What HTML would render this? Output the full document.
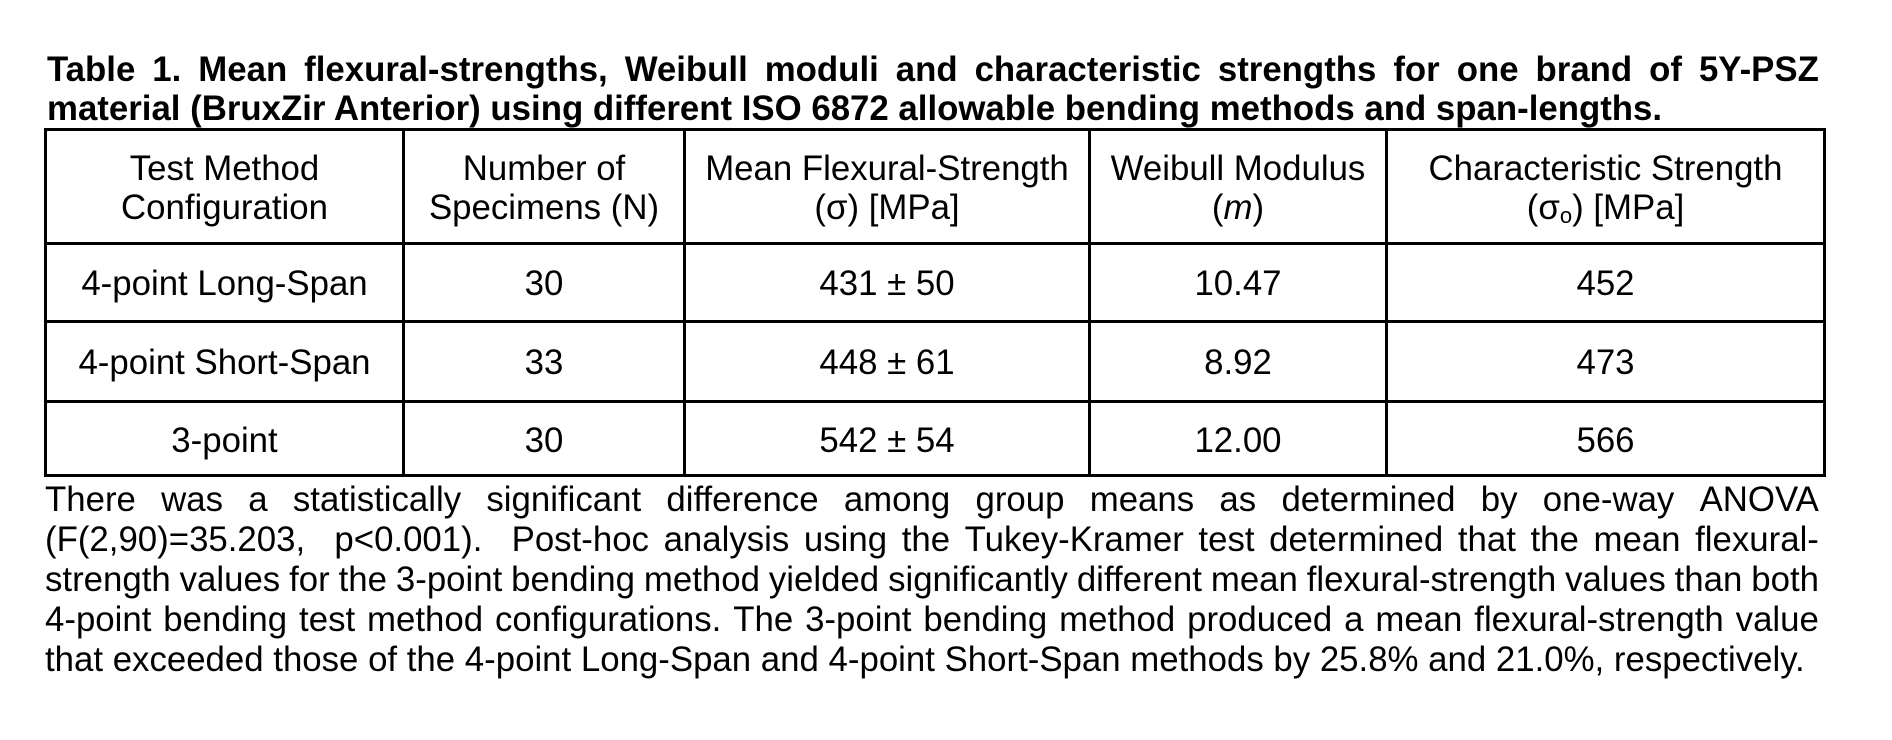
<!DOCTYPE html>
<html>
<head>
<meta charset="utf-8">
<style>
html,body{margin:0;padding:0;}
body{width:1892px;height:740px;background:#fff;position:relative;overflow:hidden;font-family:"Liberation Sans",Arial,sans-serif;font-size:34.8px;color:#000;}
.l{position:absolute;height:39px;line-height:39px;white-space:nowrap;}
.j{display:flex;justify-content:space-between;}
.c{text-align:center;}
.b{font-weight:bold;}
.hl{position:absolute;background:#000;height:3px;left:44px;width:1782px;}
.vl{position:absolute;background:#000;width:3px;top:128px;height:349px;}
sub{font-size:22px;line-height:0;vertical-align:-4px;}
.c1{left:47px;width:355px;}
.c2{left:405px;width:278px;}
.c3{left:686px;width:402px;}
.c4{left:1091px;width:294px;}
.c5{left:1388px;width:435px;}
.sp{width:0;}
</style>
</head>
<body>

<!-- Title -->
<div class="l j b" style="left:47px;width:1772px;top:49.5px;">
<span>Table</span><span>1.</span><span>Mean</span><span>flexural-strengths,</span><span>Weibull</span><span>moduli</span><span>and</span><span>characteristic</span><span>strengths</span><span>for</span><span>one</span><span>brand</span><span>of</span><span>5Y-PSZ</span>
</div>
<div class="l b" style="left:47px;top:89px;">material (BruxZir Anterior) using different ISO 6872 allowable bending methods and span-lengths.</div>

<!-- Table lines -->
<div class="hl" style="top:128px;"></div>
<div class="hl" style="top:242px;"></div>
<div class="hl" style="top:320px;"></div>
<div class="hl" style="top:400px;"></div>
<div class="hl" style="top:474px;"></div>
<div class="vl" style="left:44px;"></div>
<div class="vl" style="left:402px;"></div>
<div class="vl" style="left:683px;"></div>
<div class="vl" style="left:1088px;"></div>
<div class="vl" style="left:1385px;"></div>
<div class="vl" style="left:1823px;"></div>

<!-- Header -->
<div class="l c c1" style="top:148.5px;">Test Method</div>
<div class="l c c1" style="top:188px;">Configuration</div>
<div class="l c c2" style="top:148.5px;">Number of</div>
<div class="l c c2" style="top:188px;">Specimens (N)</div>
<div class="l c c3" style="top:148.5px;">Mean Flexural-Strength</div>
<div class="l c c3" style="top:188px;">(σ) [MPa]</div>
<div class="l c c4" style="top:148.5px;">Weibull Modulus</div>
<div class="l c c4" style="top:188px;">(<i>m</i>)</div>
<div class="l c c5" style="top:148.5px;">Characteristic Strength</div>
<div class="l c c5" style="top:188px;">(σ<sub>o</sub>) [MPa]</div>

<!-- Row 1 -->
<div class="l c c1" style="top:264px;">4-point Long-Span</div>
<div class="l c c2" style="top:264px;">30</div>
<div class="l c c3" style="top:264px;">431 ± 50</div>
<div class="l c c4" style="top:264px;">10.47</div>
<div class="l c c5" style="top:264px;">452</div>

<!-- Row 2 -->
<div class="l c c1" style="top:343px;">4-point Short-Span</div>
<div class="l c c2" style="top:343px;">33</div>
<div class="l c c3" style="top:343px;">448 ± 61</div>
<div class="l c c4" style="top:343px;">8.92</div>
<div class="l c c5" style="top:343px;">473</div>

<!-- Row 3 -->
<div class="l c c1" style="top:420.5px;">3-point</div>
<div class="l c c2" style="top:420.5px;">30</div>
<div class="l c c3" style="top:420.5px;">542 ± 54</div>
<div class="l c c4" style="top:420.5px;">12.00</div>
<div class="l c c5" style="top:420.5px;">566</div>

<!-- Paragraph -->
<div class="l j" style="left:45px;width:1774px;top:480px;">
<span>There</span><span>was</span><span>a</span><span>statistically</span><span>significant</span><span>difference</span><span>among</span><span>group</span><span>means</span><span>as</span><span>determined</span><span>by</span><span>one-way</span><span>ANOVA</span>
</div>
<div class="l j" style="left:45px;width:1774px;top:520px;">
<span>(F(2,90)=35.203,</span><span class="sp"></span><span>p&lt;0.001).</span><span class="sp"></span><span>Post-hoc</span><span>analysis</span><span>using</span><span>the</span><span>Tukey-Kramer</span><span>test</span><span>determined</span><span>that</span><span>the</span><span>mean</span><span>flexural-</span>
</div>
<div class="l j" style="left:45px;width:1774px;top:560px;">
<span>strength</span><span>values</span><span>for</span><span>the</span><span>3-point</span><span>bending</span><span>method</span><span>yielded</span><span>significantly</span><span>different</span><span>mean</span><span>flexural-strength</span><span>values</span><span>than</span><span>both</span>
</div>
<div class="l j" style="left:45px;width:1774px;top:600px;">
<span>4-point</span><span>bending</span><span>test</span><span>method</span><span>configurations.</span><span>The</span><span>3-point</span><span>bending</span><span>method</span><span>produced</span><span>a</span><span>mean</span><span>flexural-strength</span><span>value</span>
</div>
<div class="l" style="left:45px;top:640px;">that exceeded those of the 4-point Long-Span and 4-point Short-Span methods by 25.8% and 21.0%, respectively.</div>

</body>
</html>
